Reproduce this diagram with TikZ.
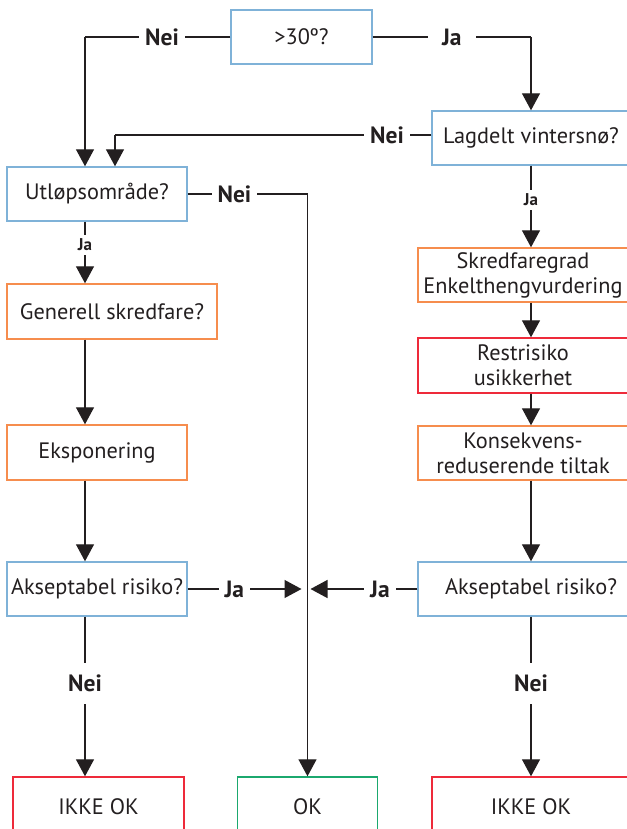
\documentclass[tikz,border=0pt]{standalone}
\usepackage{fontspec}
\setmainfont{PT Sans}
\usetikzlibrary{arrows.meta,calc}
\definecolor{txt}{HTML}{231F20}
\definecolor{bblue}{HTML}{7FB2D8}
\definecolor{borange}{HTML}{F68D4E}
\definecolor{bred}{HTML}{EE2A3A}
\definecolor{bgreen}{HTML}{1BA86E}
\begin{document}
\begin{tikzpicture}[x=1pt,y=-1pt,
  box/.style={draw, line width=1.4pt, fill=white, text=txt, inner sep=0pt, align=center,
    font=\fontsize{22.3}{25}\selectfont},
  bluebox/.style={box, draw=bblue},
  orangebox/.style={box, draw=borange},
  redbox/.style={box, draw=bred},
  greenbox/.style={box, draw=bgreen},
  conn/.style={draw=txt, line width=1.3pt},
  arr/.style={conn, -{Triangle[width=18pt,length=17pt]}},
  lbl/.style={fill=white, text=txt, inner xsep=6pt, inner ysep=2pt,
    font=\fontsize{23.5}{25}\bfseries\selectfont},
  lblv/.style={lbl, inner ysep=12pt, inner xsep=2pt},
  lblsm/.style={fill=white, text=txt, inner xsep=2pt, inner ysep=4pt,
    font=\fontsize{17}{18}\bfseries\selectfont}]
\useasboundingbox (0,0) rectangle (626,829);

% boxes
\node[bluebox, minimum width=141pt, minimum height=54pt] (t) at (301.5,37) {>30º?};
\node[bluebox, minimum width=198pt, minimum height=54pt] (lag) at (531,138) {Lagdelt vintersnø?};
\node[bluebox, minimum width=180pt, minimum height=54pt] (utl) at (97,194) {Utløpsområde?};
\node[orangebox, minimum width=210pt, minimum height=55pt] (gen) at (112,311.5) {Generell skredfare?};
\node[orangebox, minimum width=180pt, minimum height=55pt] (eks) at (97,452.5) {Eksponering};
\node[bluebox, minimum width=180pt, minimum height=54pt] (akL) at (97,589) {Akseptabel risiko?};
\node[orangebox, minimum width=210pt, minimum height=54pt] (skr) at (523,275) {Skredfaregrad\\Enkelthengvurdering};
\node[redbox, minimum width=210pt, minimum height=55pt] (res) at (523,365.5) {Restrisiko\\usikkerhet};
\node[orangebox, minimum width=210pt, minimum height=54pt] (kon) at (523,453) {Konsekvens-\\reduserende tiltak};
\node[bluebox, minimum width=226pt, minimum height=54pt] (akR) at (531,589) {Akseptabel risiko?};
\node[redbox, minimum width=171pt, minimum height=60pt] (ikL) at (98.5,807) {IKKE OK};
\node[greenbox, minimum width=140pt, minimum height=60pt] (ok) at (307.5,807) {OK};
\node[redbox, minimum width=198pt, minimum height=60pt] (ikR) at (531,807) {IKKE OK};

% helper coordinates
\coordinate (lx) at (85,0);
\coordinate (rx) at (531,0);
\coordinate (tl) at (lx |- t.west);
\coordinate (tr) at (rx |- t.east);
\coordinate (lagw) at ([yshift=3pt]lag.west);
\coordinate (ll) at (115,0 |- lagw);
\coordinate (ur) at (ok.north |- utl.east);
\coordinate (mid) at (ok.north |- akL.east);

% connectors
\draw[conn] (t.west) -- node[lbl, pos=0.47] {Nei} (tl);
\draw[arr] (tl) -- (lx |- utl.north);
\draw[conn] (t.east) -- node[lbl, pos=0.5, inner xsep=14pt] {Ja} (tr);
\draw[arr] (tr) -- (lag.north);
\draw[conn] (lagw) -- node[lbl, pos=0.14] {Nei} (ll);
\draw[arr] (ll) -- (ll |- utl.north);
\draw[arr] (lag.south) -- node[lblsm, pos=0.42] {Ja} (rx |- skr.north);
\draw[conn] (utl.east) -- node[lbl, pos=0.39] {Nei} (ur);
\draw[arr] (ur) -- (ok.north);
\draw[arr] (lx |- utl.south) -- node[lblsm, pos=0.38] {Ja} (lx |- gen.north);
\draw[arr] (lx |- gen.south) -- (lx |- eks.north);
\draw[arr] (lx |- eks.south) -- (lx |- akL.north);
\draw[arr] (rx |- skr.south) -- (rx |- res.north);
\draw[arr] (rx |- res.south) -- (rx |- kon.north);
\draw[arr] (rx |- kon.south) -- (akR.north);
\draw[arr] (akL.east) -- node[lbl, pos=0.41] {Ja} ([xshift=-6pt]mid);
\draw[arr] (akR.west) -- node[lbl, pos=0.35] {Ja} ([xshift=3pt]mid);
\draw[arr] (lx |- akL.south) -- node[lblv, pos=0.42] {Nei} (lx |- ikL.north);
\draw[arr] (akR.south) -- node[lblv, pos=0.42] {Nei} (ikR.north);
\end{tikzpicture}
\end{document}
